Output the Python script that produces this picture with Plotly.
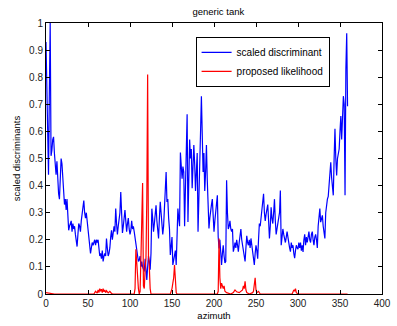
import plotly.graph_objects as go

azimuth = list(range(360))
scaled_discriminant = [
    0.93, 0.80, 0.57, 0.44, 0.75, 1.0, 0.51, 0.53, 0.57, 0.58,
    0.52, 0.48, 0.44, 0.49, 0.40, 0.37, 0.35, 0.45, 0.50, 0.48,
    0.42, 0.38, 0.33, 0.35, 0.31, 0.35, 0.30, 0.235, 0.25, 0.26,
    0.27, 0.23, 0.26, 0.24, 0.25, 0.22, 0.20, 0.175, 0.22, 0.26,
    0.25, 0.23, 0.27, 0.30, 0.32, 0.345, 0.30, 0.28, 0.30, 0.265,
    0.24, 0.20, 0.18, 0.15, 0.17, 0.19, 0.18, 0.19, 0.20, 0.18,
    0.20, 0.19, 0.20, 0.17, 0.14, 0.15, 0.13, 0.16, 0.12, 0.14,
    0.15, 0.14, 0.205, 0.17, 0.14, 0.15, 0.17, 0.21, 0.235, 0.20,
    0.22, 0.25, 0.23, 0.315, 0.26, 0.22, 0.25, 0.28, 0.30, 0.376,
    0.30, 0.225, 0.25, 0.28, 0.31, 0.27, 0.23, 0.26, 0.28, 0.24,
    0.22, 0.235, 0.27, 0.24, 0.25, 0.23, 0.21, 0.19, 0.156, 0.14,
    0.12, 0.126, 0.14, 0.10, 0.12, 0.10, 0.09, 0.083, 0.13, 0.07,
    0.052, 0.10, 0.14, 0.12, 0.09, 0.15, 0.315, 0.28, 0.23, 0.26,
    0.30, 0.327, 0.27, 0.24, 0.205, 0.28, 0.34, 0.30, 0.27, 0.22,
    0.25, 0.33, 0.40, 0.45, 0.34, 0.35, 0.28, 0.24, 0.144, 0.18,
    0.21, 0.107, 0.13, 0.15, 0.16, 0.107, 0.20, 0.315, 0.28, 0.25,
    0.522, 0.45, 0.425, 0.47, 0.45, 0.25, 0.38, 0.55, 0.663, 0.266,
    0.40, 0.57, 0.50, 0.535, 0.39, 0.45, 0.55, 0.48, 0.38, 0.45,
    0.52, 0.23, 0.40, 0.55, 0.60, 0.73, 0.50, 0.45, 0.52, 0.38,
    0.45, 0.55, 0.42, 0.33, 0.242, 0.28, 0.315, 0.33, 0.35, 0.28,
    0.23, 0.27, 0.30, 0.33, 0.364, 0.21, 0.168, 0.20, 0.13, 0.107,
    0.15, 0.18, 0.14, 0.115, 0.12, 0.42, 0.30, 0.24, 0.25, 0.27,
    0.24, 0.23, 0.24, 0.156, 0.17, 0.19, 0.17, 0.20, 0.18, 0.156,
    0.19, 0.21, 0.24, 0.20, 0.18, 0.165, 0.14, 0.12, 0.17, 0.215,
    0.19, 0.18, 0.20, 0.17, 0.205, 0.18, 0.14, 0.13, 0.107, 0.15,
    0.18, 0.16, 0.13, 0.20, 0.26, 0.25, 0.28, 0.30, 0.33, 0.37,
    0.30, 0.27, 0.295, 0.31, 0.33, 0.27, 0.205, 0.25, 0.32, 0.28,
    0.26, 0.30, 0.35, 0.27, 0.22, 0.24, 0.26, 0.27, 0.30, 0.382,
    0.18, 0.21, 0.24, 0.22, 0.20, 0.19, 0.21, 0.23, 0.21, 0.18,
    0.17, 0.156, 0.19, 0.17, 0.18, 0.15, 0.132, 0.16, 0.18, 0.17,
    0.165, 0.19, 0.17, 0.19, 0.16, 0.18, 0.155, 0.20, 0.22, 0.18,
    0.21, 0.19, 0.21, 0.23, 0.20, 0.19, 0.22, 0.23, 0.20, 0.18,
    0.21, 0.22, 0.20, 0.17, 0.25, 0.30, 0.315, 0.265, 0.28, 0.29,
    0.25, 0.22, 0.205, 0.30, 0.34, 0.35, 0.36, 0.41, 0.45, 0.486,
    0.43, 0.40, 0.364, 0.50, 0.61, 0.50, 0.437, 0.50, 0.52, 0.535,
    0.60, 0.657, 0.57, 0.65, 0.73, 0.70, 0.364, 0.83, 0.962, 0.693,
]

likelihood_az = [
    0, 5, 10, 57, 59, 61, 62, 63, 64, 65, 66, 67, 68, 69, 70, 71, 72, 74, 76, 78, 80,
    105, 106, 107, 108, 109, 110, 111, 112, 113, 114, 115, 116, 117, 118, 119, 120,
    121, 122, 123, 124, 125, 148, 149, 150, 151, 152, 153, 154, 155, 156,
    204, 205, 206, 207, 208, 209, 210, 211, 212, 213, 215, 220, 223, 225, 227, 230,
    234, 235, 236, 237, 238, 239, 242, 246, 247, 248, 249, 250, 251, 253, 255,
    293, 294, 295, 296, 297, 298, 300, 359,
]
proposed_likelihood = [
    0.005, 0.003, 0.0, 0.0, 0.01, 0.003, 0.015, 0.005, 0.02, 0.01, 0.018, 0.005, 0.02, 0.008, 0.015, 0.005, 0.012, 0.004, 0.01, 0.002, 0.0,
    0.0, 0.02, 0.165, 0.10, 0.03, 0.02, 0.0, 0.01, 0.13, 0.25, 0.41, 0.03, 0.02, 0.09, 0.13, 0.35,
    0.81, 0.14, 0.10, 0.02, 0.0, 0.0, 0.01, 0.02, 0.04, 0.06, 0.107, 0.03, 0.005, 0.0,
    0.0, 0.01, 0.205, 0.06, 0.02, 0.04, 0.03, 0.02, 0.03, 0.01, 0.005, 0.0, 0.005, 0.015, 0.008, 0.005,
    0.015, 0.03, 0.02, 0.047, 0.015, 0.005, 0.0, 0.005, 0.01, 0.03, 0.06, 0.015, 0.005, 0.01, 0.0,
    0.0, 0.005, 0.015, 0.01, 0.02, 0.005, 0.0, 0.0,
]

x_ticks = [0, 50, 100, 150, 200, 250, 300, 350, 400]
y_ticks = [0, 0.1, 0.2, 0.3, 0.4, 0.5, 0.6, 0.7, 0.8, 0.9, 1]
y_tick_text = ["0", "0.1", "0.2", "0.3", "0.4", "0.5", "0.6", "0.7", "0.8", "0.9", "1"]

FONT = "Liberation Sans, Arial, sans-serif"

fig = go.Figure()
fig.add_trace(go.Scatter(
    x=azimuth, y=scaled_discriminant, mode="lines", name="scaled discriminant",
    line=dict(color="#0000ff", width=1.2),
))
fig.add_trace(go.Scatter(
    x=likelihood_az, y=proposed_likelihood, mode="lines", name="proposed likelihood",
    line=dict(color="#ff0000", width=1.2),
))

axis_common = dict(
    showgrid=False, zeroline=False, showline=True, linecolor="black", linewidth=1,
    mirror="ticks", ticks="inside", ticklen=4, tickcolor="black",
    tickfont=dict(family=FONT, size=10, color="#222"),
    ticklabeloverflow="allow",
)

fig.update_layout(
    width=397, height=326,
    margin=dict(l=46, r=6, t=23, b=30),
    paper_bgcolor="white", plot_bgcolor="white",
    font=dict(family=FONT, size=9, color="black"),
    title=dict(text="generic tank", x=0.55, xanchor="center", y=0.965, yanchor="middle",
               font=dict(family=FONT, size=9.5, color="black")),
    xaxis=dict(range=[0, 400], tickvals=x_ticks,
               title=dict(text="azimuth", font=dict(family=FONT, size=9.5), standoff=4),
               **axis_common),
    yaxis=dict(range=[0, 1], tickvals=y_ticks, ticktext=y_tick_text,
               title=dict(text="scaled discriminants", font=dict(family=FONT, size=9.5), standoff=6),
               **axis_common),
    legend=dict(x=0.844, y=0.949, xanchor="right", yanchor="top",
                bordercolor="black", borderwidth=1, bgcolor="white",
                font=dict(family=FONT, size=10), tracegroupgap=0,
                itemwidth=30),
    showlegend=True,
)

fig.write_html("out.html")
